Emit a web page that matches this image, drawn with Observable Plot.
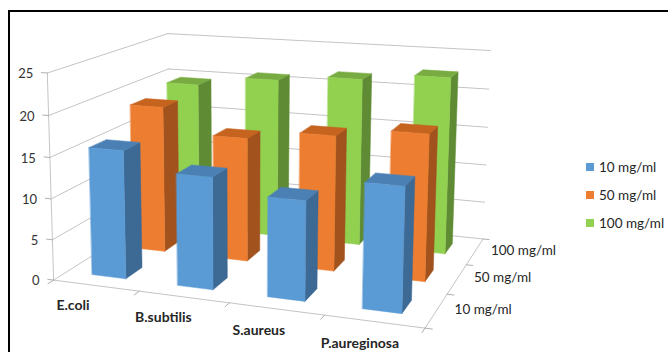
<!DOCTYPE html>
<html><head><meta charset="utf-8">
<script src="https://cdn.jsdelivr.net/npm/d3@7"></script>
<script src="https://cdn.jsdelivr.net/npm/@observablehq/plot@0.6"></script>
<style>
body{margin:0;background:#fff;}
#wrap{position:relative;width:668px;height:352px;overflow:hidden;background:#fff;}
#chart{position:absolute;left:0;top:0;}
#frame{position:absolute;left:8px;top:10px;width:720px;height:420px;border:2px solid #000;box-sizing:border-box;pointer-events:none;}
#legend{position:absolute;left:586px;top:153px;font:13.5px Lato,"Open Sans",sans-serif;color:#262626;}
#legend .row{display:flex;align-items:center;height:28px;white-space:nowrap;}
#legend .sw{width:8px;height:8px;margin-right:5px;}
</style></head><body>
<div id="wrap"><div id="chart"></div><div id="legend"></div><div id="frame"></div></div>
<script>
// Zone sizes per organism, one array per concentration
const categories = ["E.coli", "B.subtilis", "S.aureus", "P.aureginosa"];
const series = ["10 mg/ml", "50 mg/ml", "100 mg/ml"];
const values10 = [15.7, 13.5, 11.8, 14.5];
const values50 = [18.7, 15.6, 16.8, 17.9];
const values100 = [19.6, 20.9, 21.7, 22.6];
const valueTicks = [0, 5, 10, 15, 20, 25];

// face shading per series: front, right side, top
const shades = [
  {front: "#5B9BD5", side: "#3D6995", top: "#4B80B5"},
  {front: "#ED7D31", side: "#A1521D", top: "#C6631F"},
  {front: "#92D050", side: "#5F8B34", top: "#78AB42"}
];

// perspective camera: world (category, value, depth) -> screen pixels
const camera = [
  [82.05933, -0.3143049, 50.24692, 53.15016],
  [3.679471, -8.376803, -10.45461, 279.6056],
  [-0.02541290, -0.001294769, 0.06809864, 1]
];
function proj([X, Y, Z]) {
  const [a, b, c] = camera;
  const w = c[0] * X + c[1] * Y + c[2] * Z + c[3];
  return [(a[0] * X + a[1] * Y + a[2] * Z + a[3]) / w, (b[0] * X + b[1] * Y + b[2] * Z + b[3]) / w];
}
const vMax = valueTicks[valueTicks.length - 1];
const nCat = categories.length, nSer = series.length;
const rows = [values10, values50, values100];

// bar faces, painted back row first and left to right
const faces = [];
for (let j = nSer - 1; j >= 0; j--) {
  for (let i = 0; i < nCat; i++) {
    const v = rows[j][i], x0 = i + 0.3, x1 = i + 0.7, z0 = j + 0.3, z1 = j + 0.7, c = shades[j];
    const F = [
      ["side", [[x1, 0, z0], [x1, 0, z1], [x1, v, z1], [x1, v, z0]]],
      ["top", [[x0, v, z0], [x1, v, z0], [x1, v, z1], [x0, v, z1]]],
      ["front", [[x0, 0, z0], [x1, 0, z0], [x1, v, z0], [x0, v, z0]]]
    ];
    for (const [k, pts] of F) {
      const id = `${series[j]}|${categories[i]}|${k}`;
      for (const p of pts) { const [x, y] = proj(p); faces.push({id, x, y, fill: c[k]}); }
    }
  }
}

// walls, floor edges and ticks
const segs = [];
function seg(id, a, b) { for (const p of [a, b]) { const [x, y] = proj(p); segs.push({id, x, y}); } }
for (const v of valueTicks) {
  seg(`side${v}`, [0, v, 0], [0, v, nSer]);
  seg(`back${v}`, [0, v, nSer], [nCat, v, nSer]);
}
seg("floorFront", [0, 0, 0], [nCat, 0, 0]);
seg("floorRight", [nCat, 0, 0], [nCat, 0, nSer]);
seg("valueAxis", [0, 0, 0], [0, vMax, 0]);
const ticks = [];
function tick(id, a, b) { for (const p of [a, b]) { const [x, y] = proj(p); ticks.push({id, x, y}); } }
for (const v of valueTicks) tick(`vt${v}`, [0, v, 0], [-0.07, v, 0]);
for (let i = 0; i <= nCat; i++) tick(`ct${i}`, [i, 0, 0], [i, 0, -0.12]);
for (let j = 0; j <= nSer; j++) tick(`dt${j}`, [nCat, 0, j], [nCat + 0.07, 0, j]);

const valueLabels = valueTicks.map(v => { const [x, y] = proj([0, v, 0]); return {x, y, t: String(v)}; });
const catLabels = categories.map((c, i) => { const [x, y] = proj([i + 0.5, 0, -0.5]); return {x, y, t: c}; });
const serLabels = series.map((s, j) => { const [x, y] = proj([nCat + 0.18, 0, j + 0.5]); return {x, y, t: s}; });

const font = "Lato, 'Open Sans', sans-serif";
const chart = Plot.plot({
  width: 668, height: 352, margin: 0,
  x: {type: "identity", axis: null},
  y: {type: "identity", axis: null},
  color: {type: "identity"},
  marks: [
    Plot.line(segs, {x: "x", y: "y", z: "id", stroke: "#C4C4C4", strokeWidth: 1}),
    Plot.line(ticks, {x: "x", y: "y", z: "id", stroke: "#B0B0B0", strokeWidth: 1}),
    Plot.line(faces, {x: "x", y: "y", z: "id", fill: "fill", stroke: "fill", strokeWidth: 0.5, curve: "linear-closed"}),
    Plot.text(valueLabels, {x: "x", y: "y", text: "t", textAnchor: "end", dx: -14, dy: 1, fontSize: 13, fontFamily: font, fill: "#333"}),
    Plot.text(catLabels, {x: "x", y: "y", text: "t", dy: 4, fontSize: 14, fontWeight: "bold", fontFamily: font, fill: "#262626"}),
    Plot.text(serLabels, {x: "x", y: "y", text: "t", textAnchor: "start", dy: -3, fontSize: 13.5, fontFamily: font, fill: "#262626"})
  ]
});
document.getElementById("chart").append(chart);

// legend
const legend = document.getElementById("legend");
series.forEach((s, j) => {
  const row = document.createElement("div"); row.className = "row";
  const sw = document.createElement("span"); sw.className = "sw"; sw.style.background = shades[j].front;
  const tx = document.createElement("span"); tx.textContent = s;
  row.append(sw, tx); legend.append(row);
});
</script></body></html>
